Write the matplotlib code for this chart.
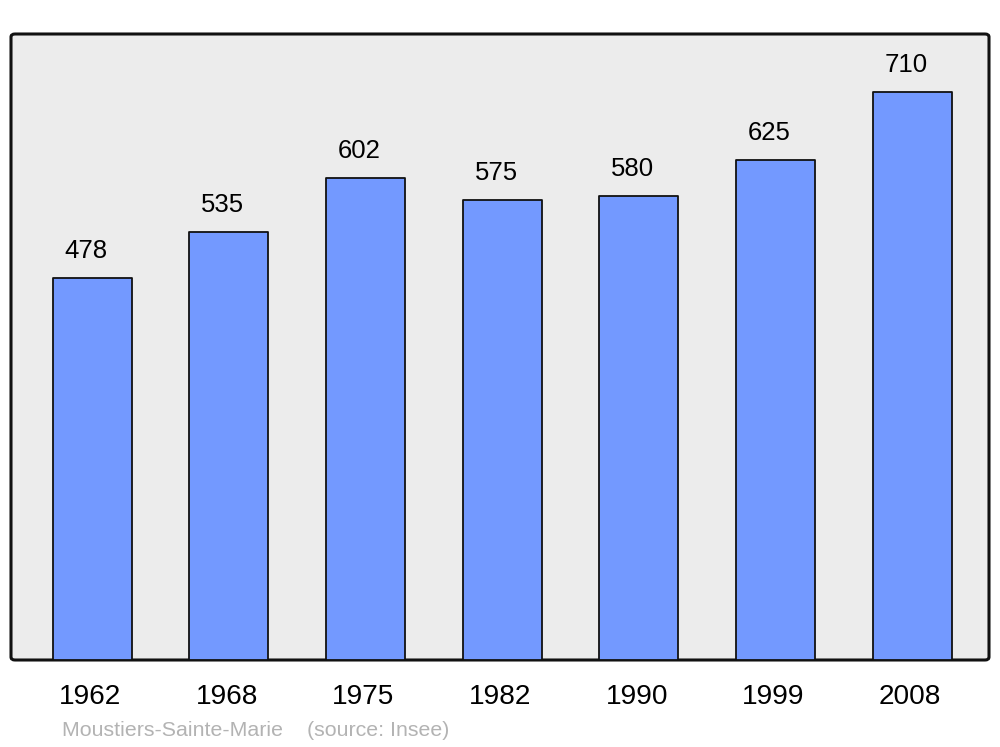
import matplotlib
matplotlib.use("Agg")
import matplotlib.pyplot as plt
import matplotlib.transforms as mtransforms
from matplotlib.patches import FancyBboxPatch

years = ["1962", "1968", "1975", "1982", "1990", "1999", "2008"]
population = [478, 535, 602, 575, 580, 625, 710]
footer = "Moustiers-Sainte-Marie    (source: Insee)"

plt.rcParams['font.family'] = ['Liberation Sans', 'DejaVu Sans']

fig = plt.figure(figsize=(10, 7.47), dpi=100)
fig.patch.set_facecolor("white")

ax_l, ax_b = 0.011, (747 - 660) / 747
ax_w, ax_h = 0.978, (660 - 34) / 747

frame = FancyBboxPatch((ax_l, ax_b), ax_w, ax_h,
                       boxstyle="round,pad=0,rounding_size=0.004",
                       transform=fig.transFigure, facecolor="#ececec",
                       edgecolor="#111111", linewidth=2.2, zorder=-5)
fig.patches.append(frame)

ax = fig.add_axes([ax_l, ax_b, ax_w, ax_h], zorder=1)
ax.set_facecolor("none")
ax.patch.set_alpha(0)
for s in ax.spines.values():
    s.set_visible(False)

x = list(range(len(years)))
bars = ax.bar(x, population, width=0.578, color="#7399ff",
              edgecolor="#111111", linewidth=1.3, zorder=2)
for b in bars:
    b.set_joinstyle("round")

ax.set_xlim(-0.593, 6.562)
ax.set_ylim(0, 782.5)

for xi, v in zip(x, population):
    ax.annotate(str(v), (xi, v), xytext=(-6, 27), textcoords="offset pixels",
                ha="center", va="center", fontsize=18.5, color="#000000")

ax.set_yticks([])
ax.set_xticks(x)
ax.set_xticklabels(years, fontsize=20.2)
ax.tick_params(axis="x", length=0, pad=17.5)
shift = mtransforms.ScaledTranslation(-2 / 100, 0, fig.dpi_scale_trans)
for lbl in ax.get_xticklabels():
    lbl.set_transform(lbl.get_transform() + shift)

fig.text(0.062, 1 - 730 / 747, footer, fontsize=15.4, color="#b3b3b3",
         ha="left", va="center")

fig.savefig("out.png", dpi=100)
